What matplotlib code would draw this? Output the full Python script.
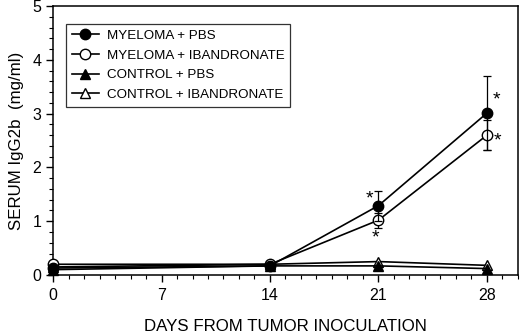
import numpy as np
import matplotlib.pyplot as plt
from matplotlib.ticker import MultipleLocator
from matplotlib.lines import Line2D

plt.rcParams['font.family'] = ['Liberation Sans', 'DejaVu Sans']

# data
days = [0, 14, 21, 28]
myeloma_pbs = [0.13, 0.17, 1.29, 3.01]
myeloma_pbs_err = [0, 0, 0.28, 0.69]
myeloma_iban = [0.20, 0.20, 1.02, 2.60]
myeloma_iban_err = [0, 0, 0.14, 0.28]
control_pbs = [0.10, 0.17, 0.17, 0.12]
control_iban = [0.15, 0.20, 0.25, 0.18]
labels = ['MYELOMA + PBS', 'MYELOMA + IBANDRONATE', 'CONTROL + PBS', 'CONTROL + IBANDRONATE']

fig = plt.figure(figsize=(5.2, 3.35), dpi=100)
ax = fig.add_axes([0.102, 0.179, 0.894, 0.803])

kw = dict(color='black', lw=1.2, ms=7.5, capsize=3, elinewidth=0.9, capthick=0.9, clip_on=False)
ax.errorbar(days, myeloma_pbs, yerr=myeloma_pbs_err, marker='o', mfc='black', zorder=4, **kw)
ax.errorbar(days, myeloma_iban, yerr=myeloma_iban_err, marker='o', mfc='white', zorder=3, **kw)
ax.plot(days, control_pbs, color='black', lw=1.2, marker='^', ms=7.5, mfc='black', clip_on=False, zorder=4)
ax.plot(days, control_iban, color='black', lw=1.2, marker='^', ms=7.5, mfc='white', clip_on=False, zorder=3)

# significance marks
ax.text(28.6, 3.25, '*', fontsize=14, ha='center', va='center')
ax.text(28.7, 2.5, '*', fontsize=14, ha='center', va='center')
ax.text(20.4, 1.42, '*', fontsize=14, ha='center', va='center')
ax.text(20.8, 0.68, '*', fontsize=14, ha='center', va='center')

ax.set_xlim(0, 30)
ax.set_ylim(0, 5)
ax.set_xticks([0, 7, 14, 21, 28])
ax.xaxis.set_minor_locator(MultipleLocator(1))
ax.yaxis.set_major_locator(MultipleLocator(1))
ax.yaxis.set_minor_locator(MultipleLocator(0.2))
ax.tick_params(which='major', direction='out', length=5, width=1, labelsize=11.5)
ax.tick_params(which='minor', direction='out', length=3, width=0.8)
ax.tick_params(axis='x', pad=4)
for s in ax.spines.values():
    s.set_linewidth(1.1)

ax.set_xlabel('DAYS FROM TUMOR INOCULATION', fontsize=12.2, labelpad=12)
ax.set_ylabel('SERUM IgG2b  (mg/ml)', fontsize=12.2, labelpad=6)

handles = [
    Line2D([], [], color='black', lw=1.2, marker='o', ms=7.5, mfc='black'),
    Line2D([], [], color='black', lw=1.2, marker='o', ms=7.5, mfc='white'),
    Line2D([], [], color='black', lw=1.2, marker='^', ms=7.5, mfc='black'),
    Line2D([], [], color='black', lw=1.2, marker='^', ms=7.5, mfc='white'),
]
leg = ax.legend(handles, labels, loc='upper left', bbox_to_anchor=(0.028, 0.935), fontsize=9.6,
                frameon=True, fancybox=False, edgecolor='black', handlelength=2.0, borderpad=0.45,
                labelspacing=0.55, handletextpad=0.6, borderaxespad=0)
leg.get_frame().set_linewidth(0.9)

fig.savefig('out.png', dpi=100)
